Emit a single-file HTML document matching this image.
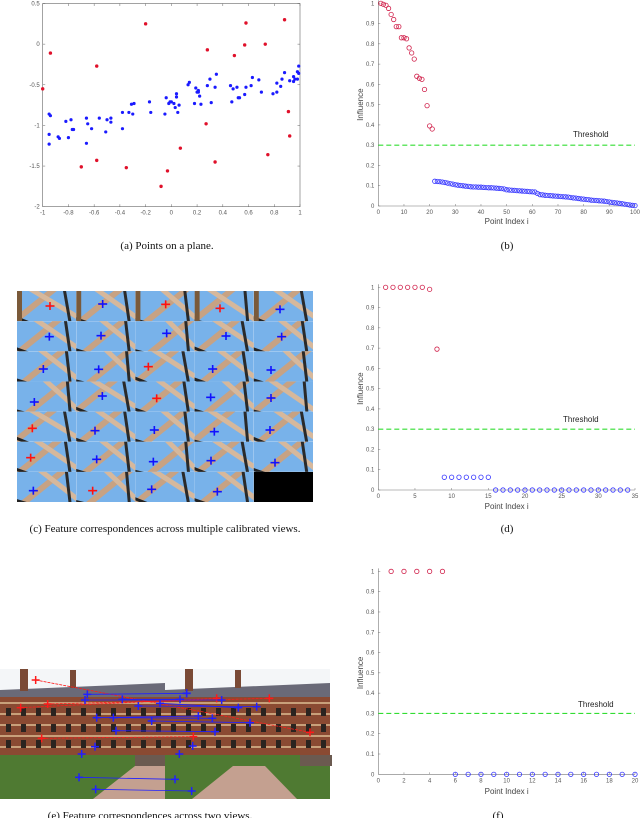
<!DOCTYPE html>
<html><head><meta charset="utf-8"><style>
html,body{margin:0;padding:0;background:#fff;}
svg{display:block;font-family:"Liberation Sans",sans-serif;}
.cap{font-family:"Liberation Serif",serif;font-size:11px;fill:#111;}
.tk{font-size:6px;fill:#555;}
.al{font-size:8px;fill:#444;}
</style></head><body>
<svg id="fig" width="640" height="818" viewBox="0 0 640 818" xmlns="http://www.w3.org/2000/svg">
<g id="gA"></g>
<g id="gB"></g>
<g id="gC"></g>
<g id="gD"></g>
<g id="gE"></g>
<g id="gF"></g>
<text class="cap" x="167" y="249" text-anchor="middle">(a)  Points on a plane.</text>
<text class="cap" x="507" y="249" text-anchor="middle">(b)</text>
<text class="cap" x="165" y="532" text-anchor="middle">(c)  Feature correspondences across multiple calibrated views.</text>
<text class="cap" x="507" y="532" text-anchor="middle">(d)</text>
<text class="cap" x="150" y="819" text-anchor="middle">(e)  Feature correspondences across two views.</text>
<text class="cap" x="498" y="819" text-anchor="middle">(f)</text>
</svg>
<script>
const NS="http://www.w3.org/2000/svg";
// ---- data: scatter (a)
const inlierX=[-0.95,-0.94,-0.95,-0.95,-0.88,-0.87,-0.82,-0.78,-0.8,-0.77,-0.76,-0.66,-0.65,-0.66,-0.62,-0.56,-0.51,-0.5,-0.47,-0.47,-0.38,-0.38,-0.33,-0.31,-0.3,-0.29,-0.17,-0.16,-0.05,-0.04,-0.02,-0.01,0,0.02,0.03,0.04,0.04,0.05,0.06,0.13,0.14,0.18,0.19,0.2,0.21,0.21,0.22,0.23,0.28,0.3,0.31,0.34,0.35,0.46,0.47,0.48,0.51,0.52,0.53,0.57,0.58,0.62,0.63,0.68,0.7,0.79,0.82,0.82,0.85,0.86,0.88,0.92,0.95,0.95,0.96,0.98,0.98,0.99,0.99];
const inlierY=[-0.86,-0.88,-1.11,-1.23,-1.14,-1.16,-0.95,-0.93,-1.15,-1.05,-1.05,-0.91,-0.98,-1.22,-1.04,-0.91,-1.08,-0.93,-0.91,-0.96,-0.84,-1.04,-0.84,-0.74,-0.86,-0.73,-0.71,-0.84,-0.86,-0.66,-0.73,-0.71,-0.71,-0.73,-0.78,-0.61,-0.65,-0.84,-0.75,-0.5,-0.47,-0.73,-0.54,-0.59,-0.59,-0.57,-0.64,-0.74,-0.51,-0.43,-0.72,-0.53,-0.37,-0.51,-0.71,-0.55,-0.53,-0.66,-0.66,-0.62,-0.53,-0.51,-0.41,-0.44,-0.59,-0.61,-0.48,-0.59,-0.52,-0.43,-0.35,-0.45,-0.46,-0.4,-0.43,-0.43,-0.34,-0.27,-0.36];
const outlierX=[-1,-0.94,-0.7,-0.58,-0.58,-0.35,-0.2,-0.08,-0.03,0.07,0.27,0.28,0.34,0.49,0.57,0.58,0.73,0.75,0.88,0.91,0.92];
const outlierY=[-0.55,-0.11,-1.51,-0.27,-1.43,-1.52,0.25,-1.75,-1.56,-1.28,-0.98,-0.07,-1.45,-0.14,-0.01,0.26,0,-1.36,0.3,-0.83,-1.13];
const aXTicks=[-1,-0.8,-0.6,-0.4,-0.2,0,0.2,0.4,0.6,0.8,1];
const aYTicks=[0.5,0,-0.5,-1,-1.5,-2];
// ---- data: chart (b)
const bRed=[1,0.995,0.99,0.975,0.945,0.92,0.885,0.885,0.83,0.83,0.825,0.78,0.755,0.725,0.64,0.63,0.625,0.575,0.495,0.395,0.38];
const bBlue=[0.122,0.121,0.12,0.118,0.116,0.113,0.11,0.108,0.105,0.103,0.101,0.1,0.098,0.097,0.095,0.094,0.094,0.093,0.093,0.092,0.091,0.09,0.09,0.089,0.088,0.087,0.086,0.084,0.08,0.079,0.078,0.077,0.076,0.075,0.074,0.073,0.072,0.071,0.07,0.069,0.062,0.056,0.055,0.053,0.052,0.051,0.05,0.049,0.048,0.047,0.046,0.045,0.044,0.042,0.04,0.039,0.037,0.035,0.034,0.032,0.031,0.029,0.028,0.027,0.026,0.025,0.024,0.022,0.02,0.018,0.016,0.015,0.013,0.011,0.009,0.007,0.005,0.003,0.002];
const bXTicks=[0,10,20,30,40,50,60,70,80,90,100];
// ---- data: chart (d)
const dRed=[1,1,1,1,1,1,0.99,0.695];
const dBlue=[0.063,0.063,0.063,0.063,0.063,0.063,0.063,0,0,0,0,0,0,0,0,0,0,0,0,0,0,0,0,0,0,0];
const dXTicks=[0,5,10,15,20,25,30,35];
// ---- data: chart (f)
const fRed=[1,1,1,1,1];
const fBlue=[0,0,0,0,0,0,0,0,0,0,0,0,0,0,0];
const fXTicks=[0,2,4,6,8,10,12,14,16,18,20];
const influenceTicks=[0,0.1,0.2,0.3,0.4,0.5,0.6,0.7,0.8,0.9,1];
const threshold=0.3;

function el(p,t,a){const e=document.createElementNS(NS,t);for(const k in a)e.setAttribute(k,a[k]);p.appendChild(e);return e;}
function fmt(v){return (Math.round(v*10)/10).toString();}

// scatter (a)
(function(){
 const g=document.getElementById('gA');
 const L=42.7,R=300,T=3.5,B=206.7,xmin=-1,xmax=1,ymin=-2,ymax=0.5;
 const sx=v=>L+(v-xmin)/(xmax-xmin)*(R-L), sy=v=>B-(v-ymin)/(ymax-ymin)*(B-T);
 const fr=el(g,'rect',{x:L,y:T,width:R-L,height:B-T,fill:'none',stroke:'#666','stroke-width':0.6});
 
 
 aXTicks.forEach(v=>{const x=sx(v);
  el(g,'line',{x1:x,x2:x,y1:B,y2:B-2.5,stroke:'#666','stroke-width':0.5});
  el(g,'line',{x1:x,x2:x,y1:T,y2:T+2.5,stroke:'#666','stroke-width':0.5});
  const t=el(g,'text',{x:x,y:B+8,class:'tk','text-anchor':'middle'});t.textContent=fmt(v);
  
  });
 aYTicks.forEach(v=>{const y=sy(v);
  el(g,'line',{x1:L,x2:L+2.5,y1:y,y2:y,stroke:'#666','stroke-width':0.5});
  el(g,'line',{x1:R,x2:R-2.5,y1:y,y2:y,stroke:'#666','stroke-width':0.5});
  const t=el(g,'text',{x:L-3,y:y+2,class:'tk','text-anchor':'end'});t.textContent=fmt(v);
  
  });
 inlierX.forEach((v,i)=>{const c=el(g,'circle',{cx:sx(v),cy:sy(inlierY[i]),r:1.6,fill:'#1a1aff'});
  
  });
 outlierX.forEach((v,i)=>{const c=el(g,'circle',{cx:sx(v),cy:sy(outlierY[i]),r:1.7,fill:'#e0102a'});
  
  });
})();

function influence(id,T,B,xmax,xticks,red,blue,thX,thY,labY){
 const g=document.getElementById(id);
 const L=378.3,R=635;
 const sx=v=>L+v/xmax*(R-L), sy=v=>B-v*(B-T);
 el(g,'line',{x1:L,x2:L,y1:T-3,y2:B,stroke:'#777','stroke-width':0.6});
 el(g,'line',{x1:L,x2:R,y1:B,y2:B,stroke:'#777','stroke-width':0.6});
 influenceTicks.forEach(v=>{const y=sy(v);
  el(g,'line',{x1:L,x2:L+2,y1:y,y2:y,stroke:'#777','stroke-width':0.5});
  const t=el(g,'text',{x:L-4,y:y+2,class:'tk','text-anchor':'end'});t.textContent=fmt(v);
  
  });
 xticks.forEach(v=>{const x=sx(v);
  el(g,'line',{x1:x,x2:x,y1:B,y2:B-2,stroke:'#777','stroke-width':0.5});
  const t=el(g,'text',{x:x,y:B+8,class:'tk','text-anchor':'middle'});t.textContent=v;
  
  });
 const tl=el(g,'line',{x1:L,x2:R,y1:sy(threshold),y2:sy(threshold),stroke:'#33dd33','stroke-width':1.1,'stroke-dasharray':'5,3'});
 
 
 const tt=el(g,'text',{x:thX,y:thY,'font-size':'8px',fill:'#222'});tt.textContent='Threshold';
 
 
 red.forEach((v,i)=>{const c=el(g,'circle',{cx:sx(i+1),cy:sy(v),r:2.2,fill:'none',stroke:'#d0204a','stroke-width':0.8});
  
  });
 blue.forEach((v,i)=>{const c=el(g,'circle',{cx:sx(red.length+i+1),cy:sy(v),r:2.2,fill:'none',stroke:'#3333ff','stroke-width':0.8});
  
  });
 const yl=el(g,'text',{x:0,y:0,class:'al','text-anchor':'middle',transform:`translate(363,${(T+B)/2}) rotate(-90)`});yl.textContent='Influence';
 
 
 const xl=el(g,'text',{x:(L+R)/2,y:labY,class:'al','text-anchor':'middle'});xl.textContent='Point Index i';
 
 
}
influence('gB',3.3,206,100,bXTicks,bRed,bBlue,573,137,224);
influence('gD',287.3,490,35,dXTicks,dRed,dBlue,563,422,509);
influence('gF',571.4,774.3,20,fXTicks,fRed,fBlue,578,707,794);

// image (c)
(function(){
 const g=document.getElementById('gC');
 const x0=17,y0=291,w=59.2,h=30.15;
 const defs=el(g,'defs',{});
 for(let r=0;r<7;r++)for(let c=0;c<5;c++){
  const x=x0+c*w,y=y0+r*h;
  const cp=el(defs,'clipPath',{id:'cc'+r+'_'+c});el(cp,'rect',{x:x,y:y,width:w,height:h});
  const cg=el(g,'g',{'clip-path':'url(#cc'+r+'_'+c+')'});
  
  
  if(r==6&&c==4){el(cg,'rect',{x:x,y:y,width:w,height:h,fill:'#000'});continue;}
  el(cg,'rect',{x:x,y:y,width:w,height:h,fill:'#78b2ea'});
  const k=(r*5+c)%4, o=(c*7+r*5)%20;
  el(cg,'line',{x1:x+o-5,y1:y+h+2,x2:x+o+40,y2:y-4,stroke:'#c7a283','stroke-width':6});
  el(cg,'line',{x1:x+10+o,y1:y-4,x2:x+w+5,y2:y+h-2+k,stroke:'#d6b89c','stroke-width':5});
  el(cg,'line',{x1:x+w-12+k,y1:y-2,x2:x+w-6,y2:y+h+2,stroke:'#2a2a2a','stroke-width':3});
  el(cg,'line',{x1:x-2,y1:y+h-4+k,x2:x+18,y2:y+h+4,stroke:'#222','stroke-width':3});
  if(r==0){el(cg,'rect',{x:x,y:y,width:5,height:h,fill:'#7a5a3a'});}
 }
 const cr=[[150,78,'r'],[308,72,'b'],[497,73,'r'],[660,85,'r'],[840,88,'b'],[148,170,'b'],[303,167,'b'],[500,160,'b'],[678,168,'b'],[845,170,'b'],[130,267,'b'],[296,268,'b'],[445,260,'r'],[638,267,'b'],[813,270,'b'],[103,366,'b'],[307,348,'b'],[470,355,'r'],[632,352,'b'],[813,354,'b'],[97,445,'r'],[285,452,'b'],[463,450,'b'],[643,455,'b'],[810,450,'b'],[92,533,'r'],[290,538,'b'],[460,545,'b'],[633,542,'b'],[825,548,'b'],[100,632,'b'],[278,632,'r'],[455,628,'b'],[652,635,'b']];
 cr.forEach(p=>{const x=p[0]/3,y=p[1]/3+280,col=p[2]=='r'?'#ff1010':'#1010ff';
  const cg=el(g,'g',{stroke:col,'stroke-width':1.6});
  
  
  el(cg,'line',{x1:x-4.5,x2:x+4.5,y1:y,y2:y});el(cg,'line',{x1:x,x2:x,y1:y-4,y2:y+4});});
})();

// image (e)
(function(){
 const g=document.getElementById('gE');
 const Y=640;
 [0,165].forEach((ox,i)=>{
  const hg=el(g,'g',{});
  
  
  el(hg,'rect',{x:ox,y:669,width:165,height:130,fill:'#f4f6f8'});
  el(hg,'polygon',{points:`${ox},${690} ${ox+165},${683} ${ox+165},${703} ${ox},${708}`,fill:'#6a6a78'});
  el(hg,'rect',{x:ox,y:697,width:165,height:59,fill:'#8a4a32'});
  for(let k=0;k<5;k++)el(hg,'rect',{x:ox,y:702+k*11,width:165,height:2,fill:'#c8a07a'});
  for(let k=0;k<11;k++)for(let j=0;j<3;j++)el(hg,'rect',{x:ox+6+k*15,y:708+j*16,width:5,height:8,fill:'#2a2420'});
  el(hg,'rect',{x:ox+20,y:669,width:8,height:22,fill:'#7a4a36'});
  el(hg,'rect',{x:ox+70,y:670,width:6,height:18,fill:'#7a4a36'});
  el(hg,'rect',{x:ox,y:755,width:165,height:44,fill:'#4f7a32'});
  el(hg,'rect',{x:ox+135,y:755,width:32,height:11,fill:'#6b5a50'});
  if(i==0)el(hg,'polygon',{points:`135,766 165,766 165,799 93,799`,fill:'#c4a090'});
  else el(hg,'polygon',{points:`233,766 265,766 297,799 192,799`,fill:'#c4a090'});
 });
 const red=[[107,120,930,277],[62,203,650,175],[143,192,808,175],[125,295,580,290]];
 const blue=[[262,163,560,160],[255,180,665,180],[367,178,540,178],[415,198,770,200],[290,233,595,228],[340,233,637,235],[455,243,750,248],[348,272,645,275],[237,412,525,418],[287,448,575,453],[480,190,715,203]];
 function cross(x,y,col){const cg=el(g,'g',{stroke:col,'stroke-width':1.5});
  
  
  el(cg,'line',{x1:x-4,x2:x+4,y1:y,y2:y});el(cg,'line',{x1:x,x2:x,y1:y-4,y2:y+4});}
 [[red,'#ff1a1a'],[blue,'#2020ff']].forEach(([arr,col])=>arr.forEach(s=>{
  const ln=el(g,'line',{x1:s[0]/3,y1:s[1]/3+Y,x2:s[2]/3,y2:s[3]/3+Y,stroke:col,'stroke-width':0.8,'stroke-dasharray':col=='#ff1a1a'?'3,1':''});
  
  
  cross(s[0]/3,s[1]/3+Y,col);cross(s[2]/3,s[3]/3+Y,col);}));
 [[285,320],[245,342],[578,318],[538,342],[560,160]].forEach(p=>cross(p[0]/3,p[1]/3+Y,'#2020ff'));
})();
</script>
</body></html>
